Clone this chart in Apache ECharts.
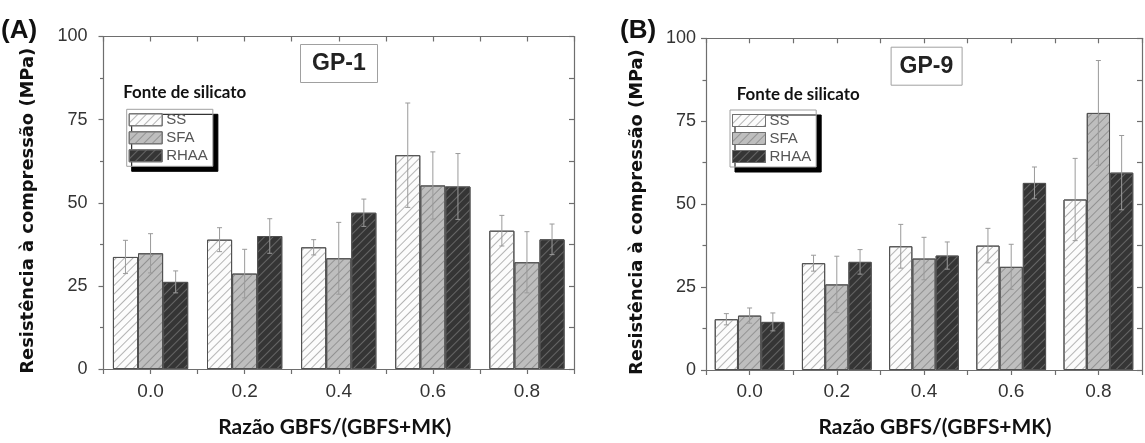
<!DOCTYPE html>
<html><head><meta charset="utf-8">
<script src="https://cdn.jsdelivr.net/npm/echarts@6/dist/echarts.min.js"></script>
<style>html,body{margin:0;padding:0;background:#fff}#c{width:1145px;height:443px}</style>
</head><body><div id="c"></div>
<script>
// ---- data ----
const cats = ['0.0', '0.2', '0.4', '0.6', '0.8'];
const seriesNames = ['SS', 'SFA', 'RHAA'];
const panelLabels = ['(A)', '(B)'];
const panelTitles = ['GP-1', 'GP-9'];
const legendTitle = 'Fonte de silicato';
const yTitle = 'Resistência à compressão (MPa)';
const xTitle = 'Razão GBFS/(GBFS+MK)';
const yTicks = [0, 25, 50, 75, 100];

const gp1SS = [33.7, 38.9, 36.6, 64.3, 41.6];
const gp1SSErr = [5.0, 3.6, 2.3, 15.7, 4.6];
const gp1SFA = [34.8, 28.7, 33.3, 55.2, 32.1];
const gp1SFAErr = [5.9, 7.3, 10.8, 10.1, 9.2];
const gp1RHAA = [26.2, 40.0, 47.0, 54.9, 39.0];
const gp1RHAAErr = [3.3, 5.2, 4.1, 9.9, 4.6];

const gp9SS = [15.3, 32.2, 37.3, 37.5, 51.4];
const gp9SSErr = [1.7, 2.4, 6.6, 5.2, 12.4];
const gp9SFA = [16.4, 25.8, 33.6, 31.1, 77.5];
const gp9SFAErr = [2.3, 8.5, 6.4, 6.8, 15.8];
const gp9RHAA = [14.5, 32.6, 34.5, 56.4, 59.5];
const gp9RHAAErr = [2.7, 3.7, 4.1, 4.8, 11.2];

const panels = [
  { vals: [gp1SS, gp1SFA, gp1RHAA], errs: [gp1SSErr, gp1SFAErr, gp1RHAAErr] },
  { vals: [gp9SS, gp9SFA, gp9RHAA], errs: [gp9SSErr, gp9SFAErr, gp9RHAAErr] }
];

// ---- styling ----
const fills = ['#fcfcfc', '#bebebe', '#353535'];
const hatch = ['#b4b4b4', '#929292', '#666666'];
const axisCol = '#6e6e6e';
const tickFont = '"Liberation Sans", Arial, sans-serif';

function fit(text, weight, family, targetW) {
  const ctx = document.createElement('canvas').getContext('2d');
  ctx.font = weight + ' 100px ' + family;
  return 100 * targetW / ctx.measureText(text).width;
}
const xTitleSize = fit(xTitle, 'bold', 'Lato', 233);
const yTitleSize = fit(yTitle, 'bold', '"DejaVu Sans"', 326);
const legTitleSize = fit(legendTitle, 'bold', 'Lato', 123);

const layout = [
  { left: 103.5, top: 36.5, width: 470.5, height: 336, yLabelMargin: 16, xLabelMargin: 13,
    yNameGap: 66, xNameGap: 48, xNamePad: [0, 8, 0, 0],
    leg: { left: 126.7, top: 109.3 }, lab: { left: 1, top: 18 },
    gp: { left: 300, top: 44, padding: [8, 12, 8, 12] }, ft: { left: 123.3, top: 84.5 } },
  { left: 706, top: 38.3, width: 440.5, height: 337.4, yLabelMargin: 10, xLabelMargin: 12,
    yNameGap: 60, xNameGap: 47, xNamePad: [0, 0, 0, 22],
    leg: { left: 730, top: 110 }, lab: { left: 620, top: 18 },
    gp: { left: 890.6, top: 46.7, padding: [8, 9, 8, 9] }, ft: { left: 736.7, top: 86 } }
];

const grid = [], xAxis = [], yAxis = [], series = [], legend = [], title = [];

layout.forEach((L, p) => {
  grid.push({ left: L.left, top: L.top, width: L.width, height: L.height });
  const lineStyle = { color: axisCol, width: 1.2 };
  const axisLine = { show: true, onZero: false, lineStyle };
  // category axis for bars (hidden)
  xAxis.push({ type: 'category', gridIndex: p, data: cats, show: false, axisLine: { onZero: false } });
  // visible bottom axis
  xAxis.push({
    type: 'value', gridIndex: p, position: 'bottom', min: -0.1, max: 0.9, interval: 0.1,
    axisLine, splitLine: { show: false },
    axisTick: { show: true, inside: false, length: 5, lineStyle },
    axisLabel: {
      margin: L.xLabelMargin, color: '#333', fontFamily: tickFont, fontSize: 19,
      formatter: v => { const k = Math.round(v * 10); return (k >= 0 && k % 2 === 0 && k / 2 < cats.length) ? cats[k / 2] : ''; }
    },
    name: xTitle, nameLocation: 'middle', nameGap: L.xNameGap,
    nameTextStyle: { fontFamily: 'Lato', fontWeight: 'bold', fontSize: xTitleSize, color: '#111', padding: L.xNamePad }
  });
  // top mirror axis
  xAxis.push({
    type: 'value', gridIndex: p, position: 'top', min: -0.1, max: 0.9, interval: 0.1,
    axisLine, splitLine: { show: false },
    axisTick: { show: true, inside: true, length: 5, lineStyle }, axisLabel: { show: false }
  });
  yAxis.push({
    type: 'value', gridIndex: p, position: 'left', min: yTicks[0], max: yTicks[yTicks.length - 1], interval: yTicks[1] - yTicks[0],
    axisLine, splitLine: { show: false },
    axisTick: { show: true, inside: false, length: 5, lineStyle },
    minorTick: { show: true, splitNumber: 2, length: 3.5, lineStyle },
    axisLabel: { margin: L.yLabelMargin, color: '#333', fontFamily: tickFont, fontSize: 18 },
    name: yTitle, nameLocation: 'middle', nameGap: L.yNameGap, nameRotate: 90,
    nameTextStyle: { fontFamily: '"DejaVu Sans"', fontWeight: 'bold', fontSize: yTitleSize, color: '#111', padding: [0, 16, 0, 0] }
  });
  yAxis.push({
    type: 'value', gridIndex: p, position: 'right', min: 0, max: 100, interval: 12.5,
    axisLine, splitLine: { show: false },
    axisTick: { show: true, inside: true, length: 5, lineStyle }, axisLabel: { show: false }
  });

  const P = panels[p];
  seriesNames.forEach((name, s) => {
    series.push({
      type: 'bar', name, xAxisIndex: p * 3, yAxisIndex: p * 2,
      barGap: '0%', barCategoryGap: '20%',
      data: P.vals[s],
      itemStyle: {
        color: fills[s], borderColor: '#505050', borderWidth: 1,
        decal: { symbol: 'rect', symbolSize: 1, dashArrayX: [1, 0], dashArrayY: [1, 5], rotation: -Math.PI / 4, color: hatch[s] }
      },
      emphasis: { disabled: true }, z: 2
    });
  });
  seriesNames.forEach((name, s) => {
    series.push({
      type: 'custom', name: name + ' err', xAxisIndex: p * 3, yAxisIndex: p * 2, z: 5,
      data: P.vals[s].map((v, i) => [i, v, P.errs[s][i]]),
      encode: { x: 0, y: 1 },
      renderItem: (params, api) => {
        const i = api.value(0), v = api.value(1), e = api.value(2);
        const bw = api.size([1, 0])[0] * 0.8 / 3;
        const cx = api.coord([i, v])[0] + (s - 1) * bw;
        const yt = api.coord([i, v + e])[1], yb = api.coord([i, v - e])[1];
        const st = { stroke: '#9a9a9a', lineWidth: 1 };
        const cw = 2.5;
        return { type: 'group', children: [
          { type: 'line', shape: { x1: cx, y1: yt, x2: cx, y2: yb }, style: st },
          { type: 'line', shape: { x1: cx - cw, y1: yt, x2: cx + cw, y2: yt }, style: st },
          { type: 'line', shape: { x1: cx - cw, y1: yb, x2: cx + cw, y2: yb }, style: st }
        ] };
      }
    });
  });

  legend.push({
    data: seriesNames, orient: 'vertical', left: L.leg.left, top: L.leg.top, icon: 'rect',
    itemWidth: 33, itemHeight: 12, itemGap: 3, padding: [3, 5, 3, 2],
    backgroundColor: '#fff', borderColor: '#a0a0a0', borderWidth: 1,
    shadowColor: '#000', shadowOffsetX: 5, shadowOffsetY: 5, shadowBlur: 0.1,
    itemStyle: { borderWidth: 1, borderColor: '#707070' },
    textStyle: { color: '#555', fontFamily: tickFont, fontSize: 15, padding: [0, 0, 0, -1] },
    selectedMode: false
  });

  title.push({ text: panelLabels[p], left: L.lab.left, top: L.lab.top, padding: 0,
    textStyle: { fontFamily: tickFont, fontWeight: 'bold', fontSize: 26, color: '#111' } });
  title.push({ text: panelTitles[p], left: L.gp.left, top: L.gp.top, padding: L.gp.padding,
    borderColor: '#a0a0a0', borderWidth: 1, backgroundColor: '#fff',
    textStyle: { fontFamily: tickFont, fontWeight: 'bold', fontSize: 23, lineHeight: 23, color: '#222' } });
  title.push({ text: legendTitle, left: L.ft.left, top: L.ft.top, padding: 0,
    textStyle: { fontFamily: 'Lato', fontWeight: 'bold', fontSize: legTitleSize, color: '#111' } });
});

const chart = echarts.init(document.getElementById('c'), null, { renderer: 'canvas' });
chart.setOption({ animation: false, backgroundColor: '#fff', grid, xAxis, yAxis, series, legend, title });
</script></body></html>
